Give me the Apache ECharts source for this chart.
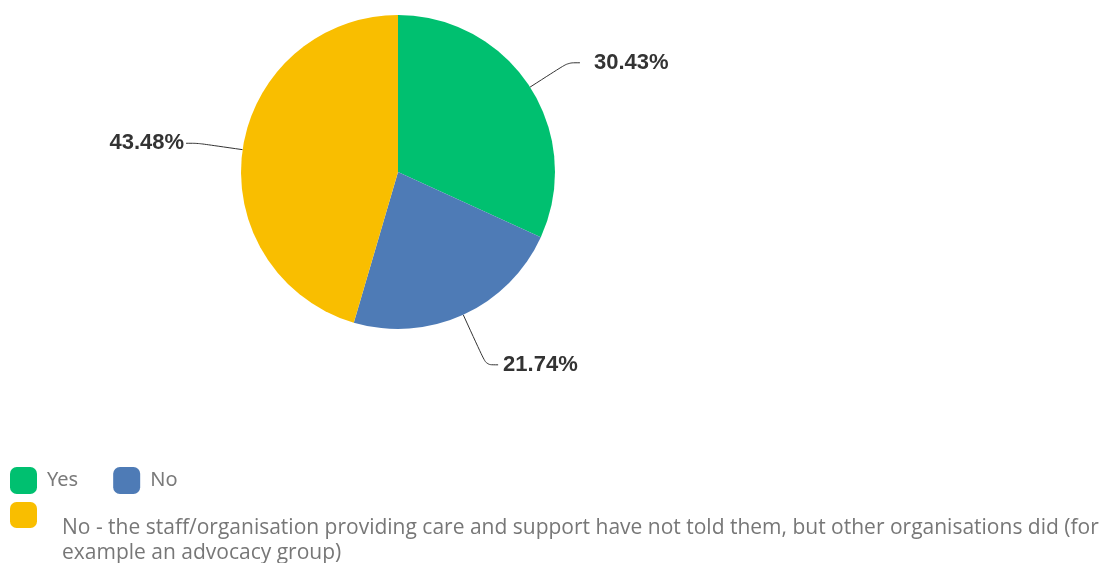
<!DOCTYPE html>
<html><head><meta charset="utf-8">
<script src="https://cdn.jsdelivr.net/npm/echarts@6/dist/echarts.min.js"></script>
<style>html,body{margin:0;padding:0;background:#fff}#c{width:1110px;height:563px}</style>
</head><body><div id="c"></div>
<script>
const categories = ['Yes', 'No', 'No - the staff/organisation providing care and support have not told them, but other organisations did (for example an advocacy group)'];
const percents = [30.43, 21.74, 43.48];
const colors = ['#00c070', '#4e7bb6', '#f9be00'];
const wrapAfter = '(for';

// per-slice label tweaks (style only)
const labelDist = [14, 5, 2];
const lineLen = [45, 55, 45];

const chart = echarts.init(document.getElementById('c'), null, {renderer: 'canvas'});
chart.setOption({
  animation: false,
  color: colors,
  legend: [{
    left: 5, top: 462, itemWidth: 27, itemHeight: 27, itemGap: 35,
    icon: 'roundRect',
    data: categories.slice(0, 2),
    formatter: n => '{t|' + n + '}',
    textStyle: {
      fontFamily: 'Noto Sans', fontSize: 20, color: '#7a7a7a',
      rich: {t: {fontFamily: 'Noto Sans', fontSize: 20, color: '#7a7a7a', padding: [0, 0, 0, 5]}}
    }
  }, {
    left: 5, top: 459, itemWidth: 27, itemHeight: 26,
    icon: 'roundRect',
    data: [categories[2]],
    formatter: n => {
      const parts = n.split(wrapAfter + ' ');
      return '{b| }\n{b| }\n{t|' + parts[0] + wrapAfter + '}\n{t|' + parts[1] + '}';
    },
    textStyle: {
      fontFamily: 'Open Sans', fontSize: 21, color: '#777', lineHeight: 25,
      rich: {
        t: {fontFamily: 'Open Sans', fontSize: 21, color: '#777', lineHeight: 25, padding: [0, 0, 0, 20]},
        b: {fontSize: 21, lineHeight: 26}
      }
    }
  }],
  series: [{
    type: 'pie',
    center: [398, 172],
    radius: 157,
    startAngle: 90,
    clockwise: true,
    data: categories.map((n, i) => ({
      name: n, value: percents[i],
      label: {distanceToLabelLine: labelDist[i]},
      labelLine: {length: lineLen[i]}
    })),
    label: {
      formatter: p => p.value.toFixed(2) + '%',
      fontFamily: 'Liberation Sans', fontWeight: 'bold', fontSize: 22, color: '#333'
    },
    labelLine: {length: 45, length2: 12, smooth: true, lineStyle: {color: '#333', width: 1}},
    itemStyle: {borderWidth: 0}
  }]
});
</script></body></html>
